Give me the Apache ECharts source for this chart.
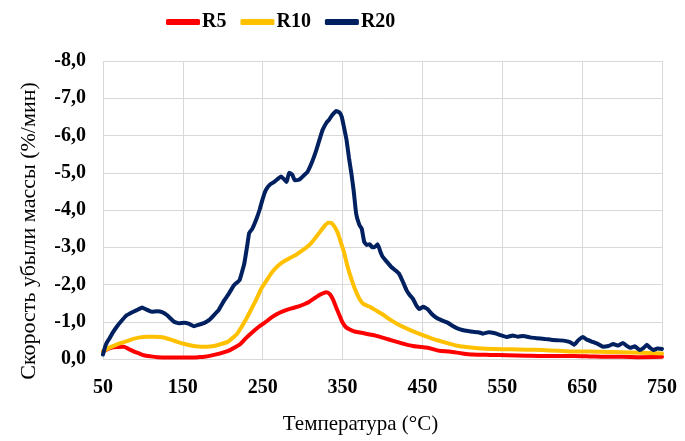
<!DOCTYPE html>
<html><head><meta charset="utf-8">
<script src="https://cdn.jsdelivr.net/npm/echarts@6/dist/echarts.min.js"></script>
<style>html,body{margin:0;padding:0;background:#fff}#c{width:685px;height:441px}</style>
</head><body><div id="c"></div>
<script>
const xTicks = [50,150,250,350,450,550,650,750];
const seriesNames = ['R5','R10','R20'];

const r5T = [50,55,60,67,76,82,89,95,101,110,118,130,140,150,160,170,177,185,193,201,209,216,222,229,237,246,254,262,271,280,288,296,302,308,314,321,326,330,334,338,342,346,350,354,359,366,375,386,396,407,418,428,438,449,459,471,484,500,513,535,556,580,600,620,640,660,680,700,722,750];
const r5V = [-0.2,-0.26,-0.3,-0.32,-0.33,-0.27,-0.2,-0.15,-0.1,-0.07,-0.05,-0.04,-0.04,-0.04,-0.04,-0.05,-0.06,-0.09,-0.13,-0.18,-0.24,-0.32,-0.4,-0.56,-0.72,-0.88,-1.0,-1.13,-1.24,-1.32,-1.37,-1.42,-1.47,-1.53,-1.62,-1.72,-1.77,-1.79,-1.74,-1.6,-1.38,-1.18,-0.98,-0.86,-0.79,-0.73,-0.7,-0.65,-0.6,-0.53,-0.46,-0.4,-0.35,-0.32,-0.29,-0.22,-0.2,-0.15,-0.12,-0.11,-0.1,-0.09,-0.08,-0.08,-0.08,-0.07,-0.06,-0.06,-0.05,-0.06];

const r10T = [50,55,61,70,80,88,96,105,114,121,127,135,143,151,159,166,172,180,189,196,206,212,218,224,230,236,242,248,254,260,267,275,283,292,300,305,311,317,322,327,332,336,340,344,348,352,356,361,366,371,376,384,392,400,410,421,432,443,453,463,474,484,495,505,520,540,560,580,600,620,640,660,680,700,722,750];
const r10V = [-0.2,-0.27,-0.33,-0.41,-0.48,-0.54,-0.58,-0.6,-0.6,-0.59,-0.57,-0.52,-0.46,-0.41,-0.37,-0.34,-0.33,-0.33,-0.35,-0.39,-0.46,-0.56,-0.68,-0.88,-1.1,-1.35,-1.6,-1.88,-2.08,-2.28,-2.46,-2.6,-2.7,-2.8,-2.92,-3.0,-3.12,-3.28,-3.42,-3.56,-3.66,-3.65,-3.55,-3.38,-3.12,-2.85,-2.5,-2.15,-1.85,-1.62,-1.48,-1.4,-1.3,-1.2,-1.05,-0.91,-0.8,-0.7,-0.62,-0.54,-0.47,-0.41,-0.35,-0.32,-0.29,-0.27,-0.26,-0.25,-0.24,-0.22,-0.2,-0.2,-0.19,-0.18,-0.17,-0.15];

const r20T = [50,53,55,58,62,67,73,80,88,94,99,104,111,118,124,130,139,145,152,158,164,170,177,183,189,195,202,208,214,221,227,231,233,237,242,246,250,254,259,264,268,273,277,280,283,287,290,296,301,306,312,317,322,325,330,333,337,342,346,349,352,355,358,361,364,367,371,374,377,380,384,387,390,394,397,400,405,411,416,421,426,430,434,438,442,446,451,457,462,468,475,482,487,493,500,507,513,520,526,533,541,548,556,563,570,576,585,593,603,613,622,630,635,640,645,651,656,663,670,676,683,689,695,701,706,710,716,722,727,731,735,739,744,750];
const r20V = [-0.12,-0.35,-0.45,-0.55,-0.7,-0.86,-1.02,-1.18,-1.27,-1.33,-1.38,-1.33,-1.27,-1.28,-1.26,-1.18,-1.0,-0.96,-0.97,-0.94,-0.88,-0.92,-0.97,-1.05,-1.18,-1.32,-1.58,-1.77,-1.98,-2.12,-2.57,-3.1,-3.38,-3.5,-3.75,-4.0,-4.3,-4.54,-4.68,-4.75,-4.82,-4.9,-4.82,-4.75,-5.0,-4.95,-4.8,-4.82,-4.92,-5.02,-5.3,-5.6,-5.95,-6.15,-6.35,-6.42,-6.55,-6.66,-6.62,-6.5,-6.2,-5.88,-5.4,-4.99,-4.5,-3.9,-3.6,-3.5,-3.15,-3.06,-3.08,-3.0,-3.0,-3.08,-2.9,-2.75,-2.62,-2.47,-2.38,-2.28,-2.05,-1.85,-1.72,-1.62,-1.45,-1.34,-1.4,-1.33,-1.2,-1.1,-1.03,-0.97,-0.9,-0.83,-0.78,-0.75,-0.73,-0.72,-0.68,-0.72,-0.69,-0.64,-0.59,-0.63,-0.6,-0.62,-0.58,-0.56,-0.54,-0.51,-0.5,-0.48,-0.45,-0.38,-0.5,-0.59,-0.52,-0.46,-0.4,-0.33,-0.35,-0.4,-0.36,-0.43,-0.35,-0.3,-0.34,-0.24,-0.3,-0.38,-0.3,-0.24,-0.28,-0.27];

const colors = ['#FF0000','#FFC000','#002060'];
const zip = (t, v) => t.map((x, i) => [x, v[i]]);
const F = 'Liberation Serif';

const chart = echarts.init(document.getElementById('c'), null, {renderer:'canvas'});
chart.setOption({
  animation: false,
  color: colors,
  legend: {
    top: 7, left: 161,
    itemWidth: 34, itemHeight: 6, itemGap: 14,
    icon: 'roundRect',
    textStyle: {fontFamily: F, fontWeight: 'bold', fontSize: 20, color: '#000', padding: [0,0,0,-3]},
    data: seriesNames
  },
  grid: {left: 103, right: 23, top: 61, bottom: 82, containLabel: false},
  xAxis: {
    type: 'value', min: 50, max: 750,
    name: 'Температура (°C)', nameLocation: 'middle', nameGap: 55,
    nameTextStyle: {fontFamily: F, fontSize: 21, color: '#000', padding: [0, 44, 0, 0]},
    axisLine: {show: true, lineStyle: {color: '#d9d9d9'}},
    axisTick: {show: false, customValues: xTicks},
    axisLabel: {customValues: xTicks, fontFamily: F, fontWeight: 'bold', fontSize: 20, color: '#000', margin: 19},
    splitLine: {show: true, lineStyle: {color: '#d9d9d9', width: 1}}
  },
  yAxis: {
    type: 'value', min: -8, max: 0, interval: 1, inverse: true,
    name: 'Скорость убыли массы (%/мин)', nameLocation: 'middle', nameGap: 63,
    nameTextStyle: {fontFamily: F, fontSize: 22, color: '#000', padding: [0, 42, 0, 0]},
    axisLine: {show: false}, axisTick: {show: false},
    axisLabel: {fontFamily: F, fontWeight: 'bold', fontSize: 20, color: '#000', margin: 17,
      formatter: v => v.toFixed(1).replace('.', ',')},
    splitLine: {show: true, lineStyle: {color: '#d9d9d9', width: 1}}
  },
  series: [
    {name: 'R5', type: 'line', data: zip(r5T, r5V), showSymbol: false, smooth: 0.2, lineStyle: {width: 4, cap: 'round', join: 'round'}},
    {name: 'R10', type: 'line', data: zip(r10T, r10V), showSymbol: false, smooth: 0.2, lineStyle: {width: 4, cap: 'round', join: 'round'}},
    {name: 'R20', type: 'line', data: zip(r20T, r20V), showSymbol: false, smooth: 0.1, lineStyle: {width: 4, cap: 'round', join: 'round'}, z: 3}
  ]
});
</script></body></html>
